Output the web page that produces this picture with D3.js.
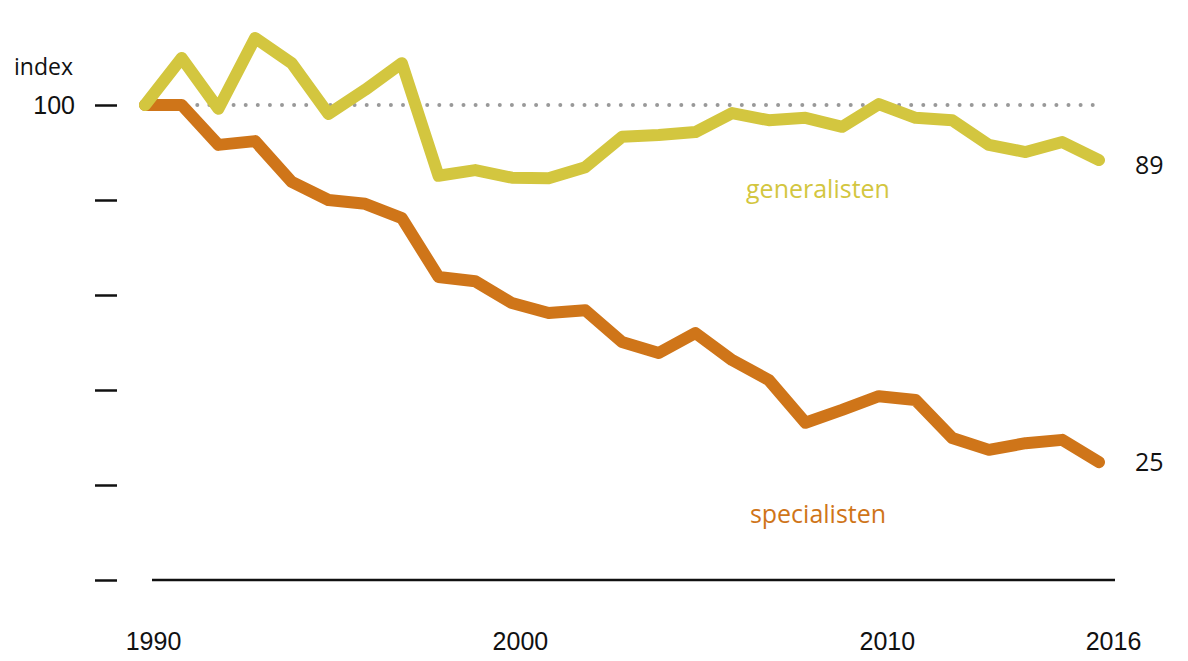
<!DOCTYPE html>
<html>
<head>
<meta charset="utf-8">
<script src="https://cdn.jsdelivr.net/npm/d3@7"></script>
<style>
  html, body { margin: 0; padding: 0; background: #fff; }
  svg { display: block; font-family: "Open Sans", sans-serif; }
</style>
</head>
<body>
<svg id="chart" width="1188" height="661"></svg>
<script>
const years = d3.range(1990, 2017);
const generalisten = [100, 109.9, 99.2, 114.1, 108.8, 98.1, 103.2, 108.8, 85.1, 86.3, 84.7, 84.6, 86.9, 93.3, 93.7, 94.3, 98.3, 96.8, 97.3, 95.4, 100.2, 97.3, 96.8, 91.6, 90.1, 92.2, 88.4];
const specialisten = [100, 100, 91.6, 92.4, 83.8, 80.0, 79.2, 76.2, 63.8, 62.9, 58.3, 56.2, 56.8, 50.1, 47.8, 52.0, 46.3, 42.1, 33.1, 35.8, 38.7, 37.9, 29.9, 27.4, 28.8, 29.5, 24.8];
const yTicks = [0, 20, 40, 60, 80, 100];
const xTickLabels = [1990, 2000, 2010, 2016];
const endLabels = ["89", "25"];
const seriesNames = ["generalisten", "specialisten"];

const colYellow = "#D3C63F";
const colOrange = "#CF7519";

const svg = d3.select("#chart");
const x = d3.scaleLinear().domain([1990, 2016]).range([145, 1099]);
const y = d3.scaleLinear().domain([0, 100]).range([580, 105]);

// y ticks (short dashes)
const yAxis = d3.axisLeft(y).tickValues(yTicks).tickSize(22).tickFormat(d => d === 100 ? "100" : "");
const gy = svg.append("g").attr("transform", "translate(117,0)").call(yAxis);
gy.select(".domain").remove();
gy.selectAll(".tick line").attr("stroke", "#111").attr("stroke-width", 2.5);
gy.selectAll(".tick text").attr("font-size", 25).attr("fill", "#111").attr("x", -42).attr("dy", "0.34em");

svg.append("text").attr("x", 14).attr("y", y(100) - 30).attr("font-size", 23).attr("fill", "#111").text("index");

// baseline
svg.append("line").attr("x1", 152).attr("x2", 1115).attr("y1", y(0)).attr("y2", y(0))
  .attr("stroke", "#111").attr("stroke-width", 2.5);

// x labels
const xAxis = d3.axisBottom(x).tickValues(xTickLabels).tickSize(0).tickFormat(d3.format("d"));
const gx = svg.append("g").attr("transform", `translate(0,${y(0)})`).call(xAxis);
gx.select(".domain").remove();
gx.selectAll(".tick text").attr("font-size", 25).attr("fill", "#111").attr("y", 52).attr("dx", d => d === 2016 ? 14 : 8);

// dotted reference line at 100
svg.append("line").attr("x1", x(1990) + 16).attr("x2", 1104).attr("y1", y(100)).attr("y2", y(100))
  .attr("stroke", "#999").attr("stroke-width", 4).attr("stroke-linecap", "round")
  .attr("stroke-dasharray", "0 12.1");

const line = d3.line().x((d, i) => x(years[i])).y(d => y(d));

svg.append("path").datum(specialisten).attr("d", line).attr("fill", "none")
  .attr("stroke", colOrange).attr("stroke-width", 12).attr("stroke-linejoin", "round").attr("stroke-linecap", "round");
svg.append("path").datum(generalisten).attr("d", line).attr("fill", "none")
  .attr("stroke", colYellow).attr("stroke-width", 12).attr("stroke-linejoin", "round").attr("stroke-linecap", "round");

// series labels
svg.append("text").attr("x", 818).attr("y", 198).attr("text-anchor", "middle").attr("font-size", 25)
  .attr("fill", colYellow).text(seriesNames[0]);
svg.append("text").attr("x", 818).attr("y", 523).attr("text-anchor", "middle").attr("font-size", 25)
  .attr("fill", colOrange).text(seriesNames[1]);

// end labels
svg.append("text").attr("x", 1135).attr("y", y(generalisten[26]) + 5).attr("dy", "0.34em").attr("font-size", 25)
  .attr("fill", "#111").text(endLabels[0]);
svg.append("text").attr("x", 1135).attr("y", y(specialisten[26])).attr("dy", "0.34em").attr("font-size", 25)
  .attr("fill", "#111").text(endLabels[1]);
</script>
</body>
</html>
